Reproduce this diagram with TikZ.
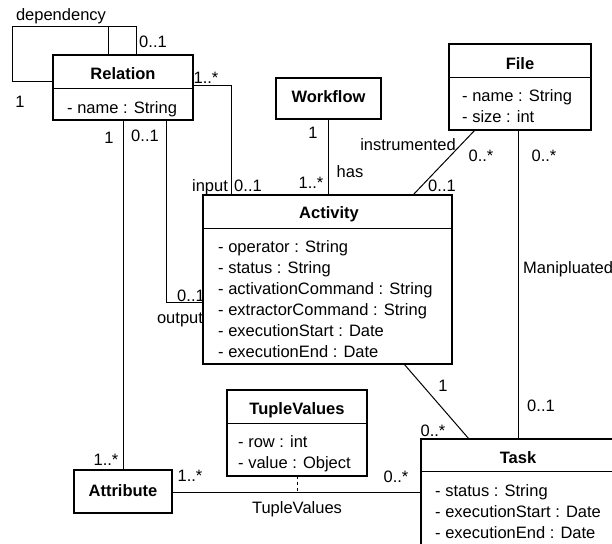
\documentclass[tikz,border=0pt]{standalone}
\usepackage{fontspec}
\setmainfont{Liberation Sans}
\begin{document}
\begin{tikzpicture}[x=1pt,y=-1pt,
  font=\fontsize{16.5}{19}\selectfont,
  cls/.style={draw, line width=2.6pt, inner sep=0pt, outer sep=0pt},
  divl/.style={line width=0.9pt},
  conn/.style={line width=1pt},
  ttl/.style={font=\fontsize{16.5}{19}\selectfont\bfseries, inner sep=0pt, anchor=base},
  attrtxt/.style={inner sep=0pt, anchor=base west},
  lbl/.style={inner sep=0pt, anchor=base}]
\path[use as bounding box] (0,0) rectangle (612,543);
\clip (0,0) rectangle (612,543);

% ---- classes ----
\node[cls, minimum width=140pt, minimum height=65pt] (rel) at (123,87.5) {};
\draw[divl] (rel.west |- 0,88) -- (rel.east |- 0,88);
\node[ttl] (relT) at (123,79) {Relation};
\node[attrtxt] (relA) at (67,113) {- name : String};

\node[cls, minimum width=105pt, minimum height=41pt] (wf) at (328.5,98.5) {};
\node[ttl] (wfT) at (328.5,102) {Workflow};

\node[cls, minimum width=142pt, minimum height=86pt] (file) at (520,87) {};
\draw[divl] (file.west |- 0,77) -- (file.east |- 0,77);
\node[ttl] (fileT) at (520,69) {File};
\node[attrtxt] (fileA1) at (462,101) {- name : String};
\node[attrtxt] (fileA2) at (462,122) {- size : int};

\node[cls, minimum width=249pt, minimum height=169pt] (act) at (327.5,279.5) {};
\draw[divl] (act.west |- 0,228) -- (act.east |- 0,228);
\node[ttl] (actT) at (329,218) {Activity};
\node[attrtxt] (actA1) at (218,252) {- operator : String};
\node[attrtxt] (actA2) at (218,273) {- status : String};
\node[attrtxt] (actA3) at (218,294) {- activationCommand : String};
\node[attrtxt] (actA4) at (218,315) {- extractorCommand : String};
\node[attrtxt] (actA5) at (218,336) {- executionStart : Date};
\node[attrtxt] (actA6) at (218,357) {- executionEnd : Date};

\node[cls, minimum width=140pt, minimum height=86pt] (tv) at (297,433) {};
\draw[divl] (tv.west |- 0,423) -- (tv.east |- 0,423);
\node[ttl] (tvT) at (297,414) {TupleValues};
\node[attrtxt] (tvA1) at (238,447) {- row : int};
\node[attrtxt] (tvA2) at (238,468) {- value : Object};

\node[cls, minimum width=98pt, minimum height=43pt] (attrb) at (123,491.5) {};
\node[ttl] (attrbT) at (123,496) {Attribute};

\node[cls, minimum width=195pt, minimum height=109pt] (task) at (518.5,493.5) {};
\draw[divl] (task.west |- 0,471) -- (task.east |- 0,471);
\node[ttl] (taskT) at (518,463) {Task};
\node[attrtxt] (taskA1) at (435,496) {- status : String};
\node[attrtxt] (taskA2) at (435,517) {- executionStart : Date};
\node[attrtxt] (taskA3) at (435,538) {- executionEnd : Date};

% ---- helper coordinates ----
\coordinate (lp1) at (12,81);
\coordinate (lp2) at (12,27);
\coordinate (lp3) at (136,27);
\coordinate (lp4) at (108,27);
\coordinate (in1) at (231,85);
\coordinate (out1) at (166,302);
\coordinate (fi1) at (475,0);
\coordinate (fi2) at (413,0);
\coordinate (ft) at (518,0);
\coordinate (at1) at (404,0);
\coordinate (at2) at (469,0);
\coordinate (att) at (0,492);

% ---- connectors ----
\draw[conn] (rel.west |- lp1) -- (lp1) -- (lp2) -- (lp3) -- (lp3 |- rel.north);
\draw[conn] (lp4) -- (lp4 |- rel.north);
\draw[conn] (rel.east |- in1) -- (in1) -- (in1 |- act.north);
\draw[conn] (rel.south -| attrb.north) -- (attrb.north);
\draw[conn] (out1 |- rel.south) -- (out1) -- (act.west |- out1);
\draw[conn] (wf.south) -- (wf.south |- act.north);
\draw[conn] (fi1 |- file.south) -- (fi2 |- act.north);
\draw[conn] (ft |- file.south) -- (ft |- task.north);
\draw[conn] (at1 |- act.south) -- (at2 |- task.north);
\draw[conn] (attrb.east |- att) -- (task.west |- att);
\draw[conn, dash pattern=on 3pt off 3pt] (tv.south) -- (tv.south |- att);

% ---- labels ----
\node[lbl] (l1) at (61,21) {dependency};
\node[lbl] (l2) at (153,48) {0..1};
\node[lbl] (l3) at (20,107) {1};
\node[lbl] (l4) at (206,83) {1..*};
\node[lbl] (l5) at (109,143) {1};
\node[lbl] (l6) at (145,141) {0..1};
\node[lbl] (l7) at (210,191) {input};
\node[lbl] (l8) at (248,191) {0..1};
\node[lbl] (l9) at (311,188) {1..*};
\node[lbl] (l10) at (313,138) {1};
\node[lbl] (l11) at (350,177) {has};
\node[lbl] (l12) at (408,150) {instrumented};
\node[lbl] (l13) at (481,161) {0..*};
\node[lbl] (l14) at (442,191) {0..1};
\node[lbl] (l15) at (544,161) {0..*};
\node[lbl, anchor=base west] (l16) at (523,273) {Manipluated};
\node[lbl] (l17) at (191,301) {0..1};
\node[lbl] (l18) at (180,323) {output};
\node[lbl] (l19) at (541,411) {0..1};
\node[lbl] (l20) at (443,391) {1};
\node[lbl] (l21) at (433,436) {0..*};
\node[lbl] (l22) at (106,465) {1..*};
\node[lbl] (l23) at (190,481) {1..*};
\node[lbl] (l24) at (396,482) {0..*};
\node[lbl] (l25) at (297,513) {TupleValues};
\end{tikzpicture}
\end{document}
